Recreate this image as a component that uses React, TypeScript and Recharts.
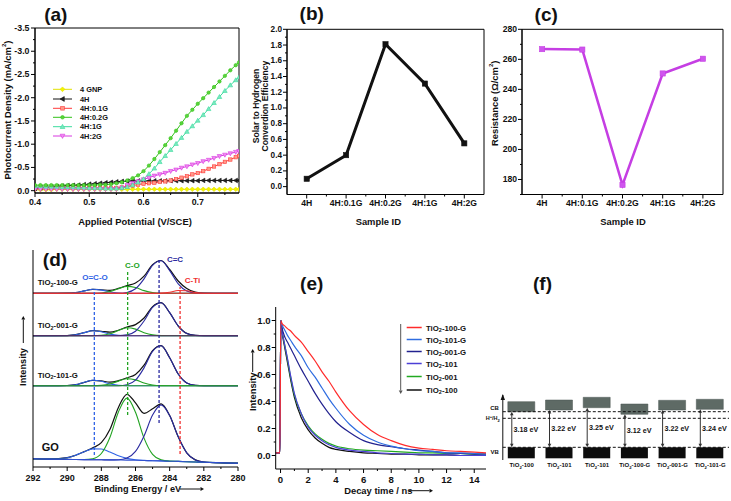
import React from 'react';
import { LineChart, Line, XAxis, YAxis, ReferenceLine, ReferenceArea, BarChart, Bar } from 'recharts';

const FONT = '"Liberation Sans", Arial, Helvetica, sans-serif';
const PW = 731;
const PH = 501;

/* ---------------- (a) photocurrent ---------------- */
const potentials = [0.40,0.41,0.42,0.43,0.44,0.45,0.46,0.47,0.48,0.49,0.50,0.51,0.52,0.53,0.54,0.55,0.56,0.57,0.58,0.59,0.60,0.61,0.62,0.63,0.64,0.65,0.66,0.67,0.68,0.69,0.70,0.71,0.72,0.73,0.74,0.75,0.76,0.77,0.776];
const gnpCurrent = [-0.02,-0.02,-0.02,-0.02,-0.03,-0.03,-0.03,-0.03,-0.03,-0.03,
  -0.03,-0.03,-0.03,-0.03,-0.03,-0.03,-0.03,-0.03,-0.03,-0.03,
  -0.03,-0.03,-0.03,-0.03,-0.03,-0.03,-0.03,-0.03,-0.03,-0.03,
  -0.03,-0.03,-0.03,-0.03,-0.03,-0.03,-0.03,-0.03,-0.03];
const h4Current = [-0.05,-0.06,-0.07,-0.08,-0.09,-0.10,-0.11,-0.115,-0.12,-0.13,
  -0.14,-0.15,-0.16,-0.17,-0.18,-0.19,-0.20,-0.205,-0.21,-0.21,
  -0.21,-0.21,-0.21,-0.21,-0.21,-0.215,-0.215,-0.215,-0.215,-0.215,
  -0.215,-0.22,-0.22,-0.22,-0.22,-0.22,-0.22,-0.22,-0.22];
const g01Current = [-0.06,-0.06,-0.06,-0.06,-0.06,-0.06,-0.06,-0.06,-0.06,-0.06,
  -0.06,-0.06,-0.06,-0.06,-0.06,-0.06,-0.07,-0.09,-0.11,-0.13,
  -0.15,-0.16,-0.17,-0.19,-0.20,-0.22,-0.25,-0.28,-0.31,-0.35,
  -0.38,-0.42,-0.47,-0.52,-0.57,-0.62,-0.67,-0.72,-0.75];
const g02Current = [-0.12,-0.12,-0.12,-0.12,-0.12,-0.12,-0.12,-0.12,-0.12,-0.12,
  -0.12,-0.12,-0.13,-0.13,-0.14,-0.16,-0.18,-0.22,-0.27,-0.33,
  -0.42,-0.54,-0.68,-0.83,-0.98,-1.13,-1.29,-1.45,-1.61,-1.74,
  -1.87,-1.99,-2.11,-2.23,-2.35,-2.47,-2.59,-2.70,-2.76];
const g1Current = [-0.10,-0.10,-0.09,-0.09,-0.09,-0.08,-0.08,-0.08,-0.07,-0.07,
  -0.06,-0.06,-0.06,-0.05,-0.05,-0.05,-0.06,-0.08,-0.12,-0.18,
  -0.25,-0.36,-0.48,-0.62,-0.75,-0.88,-1.01,-1.14,-1.27,-1.39,
  -1.51,-1.63,-1.76,-1.89,-2.02,-2.15,-2.27,-2.38,-2.44];
const g2Current = [-0.03,-0.03,-0.03,-0.03,-0.03,-0.03,-0.03,-0.03,-0.03,-0.03,
  -0.03,-0.03,-0.03,-0.03,-0.03,-0.03,-0.06,-0.12,-0.16,-0.20,
  -0.24,-0.28,-0.32,-0.35,-0.38,-0.42,-0.45,-0.49,-0.52,-0.56,
  -0.59,-0.63,-0.66,-0.70,-0.74,-0.77,-0.80,-0.83,-0.85];
const aSeries = [
  { key: 'gnp', name: '4 GNP', color: '#e2e200', fill: '#f4f400', shape: 'diamond', values: gnpCurrent },
  { key: 'h4', name: '4H', color: '#111111', fill: '#222222', shape: 'left', values: h4Current },
  { key: 'g01', name: '4H:0.1G', color: '#ff3b3b', fill: '#ff9a8a', shape: 'square', values: g01Current },
  { key: 'g2', name: '4H:2G', color: '#d838e0', fill: '#f08cf0', shape: 'down', values: g2Current },
  { key: 'g1', name: '4H:1G', color: '#3ddc9e', fill: '#7ae8c0', shape: 'up', values: g1Current },
  { key: 'g02', name: '4H:0.2G', color: '#33c21a', fill: '#5ad43a', shape: 'circle', values: g02Current },
];
const aLegendOrder = ['gnp', 'h4', 'g01', 'g02', 'g1', 'g2'];
const aXMajor = [0.4, 0.5, 0.6, 0.7];
const aXTicks = [0.4, 0.45, 0.5, 0.55, 0.6, 0.65, 0.7, 0.75];
const aYMajor = [0, -0.5, -1, -1.5, -2, -2.5, -3, -3.5];
const aYTicks = [-3.5, -3.25, -3, -2.75, -2.5, -2.25, -2, -1.75, -1.5, -1.25, -1, -0.75, -0.5, -0.25, 0];

/* ---------------- (b) STH efficiency ---------------- */
const sampleIds = ['4H', '4H:0.1G', '4H:0.2G', '4H:1G', '4H:2G'];
const sthEfficiency = [0.1, 0.4, 1.81, 1.31, 0.55];
const bYMajor = [0, 0.2, 0.4, 0.6, 0.8, 1.0, 1.2, 1.4, 1.6, 1.8, 2.0];
const bYTicks = [0, 0.1, 0.2, 0.3, 0.4, 0.5, 0.6, 0.7, 0.8, 0.9, 1.0, 1.1, 1.2, 1.3, 1.4, 1.5, 1.6, 1.7, 1.8, 1.9, 2.0];
const catTicks = [0, 0.5, 1, 1.5, 2, 2.5, 3, 3.5, 4];
const catMajor = [0, 1, 2, 3, 4];

/* ---------------- (c) resistance ---------------- */
const resistance = [266.8, 266.5, 176.4, 250.6, 260.4];
const cYMajor = [180, 200, 220, 240, 260, 280];
const cYTicks = [170, 180, 190, 200, 210, 220, 230, 240, 250, 260, 270, 280];

/* ---------------- (d) XPS C1s ---------------- */
const energies = [292, 291, 290, 289.5, 289, 288.5, 288, 287.5, 287, 286.5, 286, 285.5, 285, 284.5, 284, 283.5, 283, 282.5, 282, 281, 280];
const oco100 = [0,0,0.1,0.8,2.4,4.0,3.2,1.3,0.3,0,0,0,0,0,0,0,0,0,0,0,0];
const co100 = [0,0,0,0,0,0,0.35,1.7,4.6,6.9,5.8,2.7,0.7,0.1,0,0,0,0,0,0,0];
const cc100 = [0,0,0,0,0,0,0,0,0,0.85,4.5,14.4,28.0,32.5,22.7,9.5,2.3,0.3,0,0,0];
const cti100 = [0,0,0,0,0,0,0,0,0,0,0,0,0,0.2,1.1,2.8,2.5,0.8,0.1,0,0];
const env100 = [0,0,0.1,0.8,2.4,4.0,3.55,3.0,4.9,7.75,10.3,17.1,28.7,32.8,23.8,12.3,4.8,1.1,0.1,0,0];
const oco001 = [0,0,0.15,1.0,3.05,5.0,4.0,1.6,0.3,0,0,0,0,0,0,0,0,0,0,0,0];
const co001 = [0,0,0,0,0,0,0.4,1.9,5.2,7.9,6.6,3.0,0.8,0.1,0,0,0,0,0,0,0];
const cc001 = [0,0,0,0,0,0,0,0,0,0.8,4.5,14.7,28.3,33.0,23.0,9.7,2.3,0.4,0,0,0];
const env001 = [0,0,0.15,1.0,3.05,5.0,4.4,3.5,5.5,8.7,11.1,17.7,29.1,33.1,23.0,9.7,2.3,0.4,0,0,0];
const oco101 = [0,0,0.2,1.0,3.4,5.4,4.4,1.8,0.4,0,0,0,0,0,0,0,0,0,0,0,0];
const co101 = [0,0,0,0,0,0,0.35,1.7,4.6,6.9,5.8,2.7,0.7,0.1,0,0,0,0,0,0,0];
const cc101 = [0,0,0,0,0,0,0,0,0,1.0,5.5,17.8,34.3,40.0,27.9,11.7,2.8,0.4,0,0,0];
const env101 = [0,0,0.2,1.0,3.4,5.4,4.75,3.5,5.0,7.9,11.3,20.5,35.0,40.1,27.9,11.7,2.8,0.4,0,0,0];
const goBaseline = [8.2,7.9,7.6,7.5,7.4,7.3,7.2,7.1,7.0,6.9,6.7,6.5,6.3,6.1,5.8,5.6,5.3,5.0,4.7,4.2,3.8];
const goOco = [0,0.1,1.7,4.3,7.9,10.8,10.8,7.9,4.3,1.7,0.5,0.1,0,0,0,0,0,0,0,0,0];
const goCo = [0,0,0,0,0.1,1.0,6.3,22.4,48,62,48,22.4,6.3,1.0,0.1,0,0,0,0,0,0];
const goCc = [0,0,0,0,0,0,0,0,0.3,2.1,8.9,24.6,45.6,56,45.6,24.6,8.9,2.1,0.3,0,0];
const goEnv = [0,0.1,1.7,4.3,8.0,11.8,17.1,30.3,52.6,65.8,57.4,47.1,51.9,57.0,45.7,24.6,8.9,2.1,0.3,0,0];
const offset100G = 173.7;
const offset001G = 131.3;
const offset101G = 81.3;
const C_OCO = '#2f63e6';
const C_CO = '#22a322';
const C_CC = '#2a2aa0';
const C_CTI = '#f03030';
const dSpectra = [
  { id: 'go', base: goBaseline, baseColor: '#3050d0', env: goEnv, comps: [{ v: goOco, c: C_OCO }, { v: goCo, c: C_CO }, { v: goCc, c: C_CC }] },
  { id: 's101', base: offset101G, baseColor: '#2aa02a', env: env101, comps: [{ v: oco101, c: C_OCO }, { v: co101, c: C_CO }, { v: cc101, c: C_CC }] },
  { id: 's001', base: offset001G, baseColor: '#5a2a5a', env: env001, comps: [{ v: oco001, c: C_OCO }, { v: co001, c: C_CO }, { v: cc001, c: C_CC }] },
  { id: 's100', base: offset100G, baseColor: '#e83030', env: env100, comps: [{ v: oco100, c: C_OCO }, { v: co100, c: C_CO }, { v: cc100, c: C_CC }, { v: cti100, c: C_CTI }] },
];
const dMarkers = [
  { e: 288.41, y1: 12, y2: 177, color: C_OCO },
  { e: 286.46, y1: 52, y2: 195, color: C_CO },
  { e: 284.62, y1: 44, y2: 207, color: C_CC },
  { e: 283.39, y1: 13, y2: 180, color: C_CTI },
];
const dXMajor = [292, 290, 288, 286, 284, 282, 280];
const dXTicks = [280, 281, 282, 283, 284, 285, 286, 287, 288, 289, 290, 291, 292];

/* ---------------- (e) PL decay ---------------- */
const decayTime = [-0.35,-0.1,-0.05,0.02,0.1,0.3,0.5,0.75,1,1.5,2,2.5,3,3.5,4,5,6,7,8,9,10,11,12,13,14,14.85];
const decay100G = [0.02,0.02,0.02,1.0,0.98,0.96,0.94,0.92,0.89,0.84,0.77,0.70,0.62,0.55,0.47,0.33,0.23,0.155,0.11,0.075,0.055,0.045,0.035,0.03,0.025,0.02];
const decay101G = [0.02,0.02,0.02,1.0,0.97,0.93,0.89,0.85,0.81,0.74,0.65,0.58,0.50,0.42,0.35,0.23,0.15,0.10,0.07,0.05,0.035,0.03,0.02,0.02,0.015,0.01];
const decay001G = [0.02,0.02,0.02,1.0,0.95,0.88,0.84,0.79,0.74,0.64,0.55,0.46,0.38,0.31,0.25,0.17,0.11,0.08,0.065,0.05,0.04,0.03,0.02,0.015,0.01,0.01];
const decay101 = [0.02,0.02,0.02,1.0,0.93,0.82,0.72,0.58,0.46,0.31,0.21,0.15,0.11,0.08,0.06,0.04,0.03,0.02,0.015,0.01,0.01,0.005,0.005,0,0,0];
const decay001 = [0.02,0.02,0.02,1.0,0.93,0.82,0.71,0.57,0.45,0.31,0.22,0.16,0.12,0.09,0.07,0.05,0.04,0.035,0.03,0.025,0.02,0.02,0.015,0.015,0.01,0.01];
const decay100 = [0.02,0.02,0.02,1.0,0.92,0.80,0.69,0.55,0.43,0.28,0.19,0.13,0.09,0.06,0.045,0.03,0.02,0.015,0.01,0.01,0.005,0.005,0.005,0,0,0];
const eSeries = [
  { key: 'r100G', name: 'TiO2-100-G', color: '#ff2b2b', values: decay100G },
  { key: 'r101G', name: 'TiO2-101-G', color: '#2f6de0', values: decay101G },
  { key: 'r001G', name: 'TiO2-001-G', color: '#22228f', values: decay001G },
  { key: 'r101', name: 'TiO2-101', color: '#4b3fd6', values: decay101 },
  { key: 'r001', name: 'TiO2-001', color: '#22aa22', values: decay001 },
  { key: 'r100', name: 'TiO2-100', color: '#111111', values: decay100 },
];
const eXMajor = [0, 2, 4, 6, 8, 10, 12, 14];
const eXTicks = [0, 1, 2, 3, 4, 5, 6, 7, 8, 9, 10, 11, 12, 13, 14];
const eYMajor = [0, 0.2, 0.4, 0.6, 0.8, 1.0];
const eYTicks = [0, 0.1, 0.2, 0.3, 0.4, 0.5, 0.6, 0.7, 0.8, 0.9, 1.0];

/* ---------------- (f) band diagram ---------------- */
const fSamples = ['TiO2-100', 'TiO2-101', 'TiO2-101', 'TiO2-100-G', 'TiO2-001-G', 'TiO2-101-G'];
const fGapLabels = ['3.18 eV', '3.22 eV', '3.25 eV', '3.12 eV', '3.22 eV', '3.24 eV'];
const fCbBottom = [48.3, 50, 52.3, 45.7, 50, 50.7];
const fCbTop = [58.3, 60, 62.7, 56, 59.7, 60.7];
const fVbBottom = [1.7, 1.7, 1.7, 1.7, 1.7, 1.7];
const fVbTop = [12.7, 12.7, 12.7, 12.7, 12.7, 12.7];
const fDashedLevels = [48.3, 41.7, 12.7];
const fLevelTicks = [8, 41.7, 52.3, 65];
const fLevelNames = ['VB', 'H+/H2', 'CB', ''];

/* ---------------- helpers ---------------- */
const abs: any = { position: 'absolute', left: 0, top: 0 };
const isMajor = (v: number, majors: number[]) => majors.some((m) => Math.abs(m - v) < 1e-6);

function bottomTick(majors: number[], fmt: (v: number) => string, fs: number, gap: number) {
  return (p: any) => {
    const v = p.payload.value;
    const M = isMajor(v, majors);
    return (
      <g key={`bt-${v}`}>
        <line x1={p.x} x2={p.x} y1={p.y} y2={p.y + (M ? 4 : 2)} stroke="#000" strokeWidth={1} />
        {M ? (
          <text x={p.x} y={p.y + gap} textAnchor="middle" dominantBaseline="central" fontSize={fs} fontWeight="bold" fontFamily={FONT} fill="#111">
            {fmt(v)}
          </text>
        ) : null}
      </g>
    );
  };
}
function leftTick(majors: number[], fmt: (v: number) => string, fs: number, gap: number) {
  return (p: any) => {
    const v = p.payload.value;
    const M = isMajor(v, majors);
    return (
      <g key={`lt-${v}`}>
        <line x1={p.x - (M ? 4 : 2)} x2={p.x} y1={p.y} y2={p.y} stroke="#000" strokeWidth={1} />
        {M ? (
          <text x={p.x - gap} y={p.y} textAnchor="end" dominantBaseline="central" fontSize={fs} fontWeight="bold" fontFamily={FONT} fill="#111">
            {fmt(v)}
          </text>
        ) : null}
      </g>
    );
  };
}

function Marker({ shape, cx, cy, s, fill, stroke }: any) {
  const sw = 0.6;
  if (cx == null || cy == null) return <g />;
  if (shape === 'circle') return <circle cx={cx} cy={cy} r={s} fill={fill} stroke={stroke} strokeWidth={sw} />;
  if (shape === 'square') return <rect x={cx - s} y={cy - s} width={2 * s} height={2 * s} fill={fill} stroke={stroke} strokeWidth={sw} />;
  const t = s + 0.6;
  let pts = '';
  if (shape === 'diamond') pts = `${cx},${cy - t} ${cx + t},${cy} ${cx},${cy + t} ${cx - t},${cy}`;
  if (shape === 'up') pts = `${cx},${cy - t} ${cx + t},${cy + s} ${cx - t},${cy + s}`;
  if (shape === 'down') pts = `${cx},${cy + t} ${cx + t},${cy - s} ${cx - t},${cy - s}`;
  if (shape === 'left') pts = `${cx - t},${cy} ${cx + s},${cy - t} ${cx + s},${cy + t}`;
  return <polygon points={pts} fill={fill} stroke={stroke} strokeWidth={sw} />;
}
const makeDot = (shape: string, fill: string, stroke: string, s: number) => (p: any) => (
  <Marker key={`dot-${shape}-${p.index}`} shape={shape} cx={p.cx} cy={p.cy} s={s} fill={fill} stroke={stroke} />
);

function chem(label: string, fs: number) {
  if (!label.startsWith('TiO2')) return label;
  const rest = label.slice(4);
  return [
    <tspan key="a">TiO</tspan>,
    <tspan key="b" dy={fs * 0.3} fontSize={fs * 0.7}>2</tspan>,
    <tspan key="c" dy={-fs * 0.3}>{rest}</tspan>,
  ];
}

const Txt = ({ x, y, size = 9, anchor = 'middle', color = '#111', rotate = 0, children }: any) => (
  <text
    x={x}
    y={y}
    fontSize={size}
    textAnchor={anchor}
    fill={color}
    fontFamily={FONT}
    fontWeight="bold"
    dominantBaseline="central"
    transform={rotate ? `rotate(${rotate} ${x} ${y})` : undefined}
  >
    {children}
  </text>
);

function Arrow({ x1, y1, x2, y2, color = '#111', w = 1, head = 3.5 }: any) {
  const ang = Math.atan2(y2 - y1, x2 - x1);
  const bx = x2 - head * Math.cos(ang);
  const by = y2 - head * Math.sin(ang);
  const px = -Math.sin(ang) * head * 0.55;
  const py = Math.cos(ang) * head * 0.55;
  return (
    <g>
      <line x1={x1} y1={y1} x2={bx} y2={by} stroke={color} strokeWidth={w} />
      <polygon points={`${x2},${y2} ${bx + px},${by + py} ${bx - px},${by - py}`} fill={color} />
    </g>
  );
}

/* ---------------- panels ---------------- */
function PanelA() {
  const rows = potentials.map((v, i) => {
    const r: any = { v };
    aSeries.forEach((s) => (r[s.key] = s.values[i]));
    return r;
  });
  return (
    <div style={abs}>
      <LineChart width={PW} height={PH} data={rows} margin={{ top: 28, left: 5, right: PW - 239, bottom: PH - 193 - 30 }}>
        <XAxis dataKey="v" type="number" domain={[0.4, 0.776]} ticks={aXTicks} interval={0} height={30} tickSize={0} tickMargin={0} tickLine={false} axisLine={{ stroke: '#000' }} tick={bottomTick(aXMajor, (v) => v.toFixed(1), 8.8, 9)} allowDataOverflow />
        <YAxis type="number" domain={[-3.5, 0.05]} reversed ticks={aYTicks} interval={0} width={30} tickSize={0} tickMargin={0} tickLine={false} axisLine={{ stroke: '#000' }} tick={leftTick(aYMajor, (v) => v.toFixed(1), 8.8, 5.5)} allowDataOverflow />
        <ReferenceArea x1={0.4} x2={0.776} y1={-3.5} y2={0.05} fill="none" fillOpacity={0} stroke="#000" strokeWidth={1} ifOverflow="visible" />
        {aSeries.map((s) => (
          <Line key={s.key} dataKey={s.key} type="linear" stroke={s.color} strokeWidth={1} dot={makeDot(s.shape, s.fill, s.color, 1.7)} isAnimationActive={false} />
        ))}
      </LineChart>
    </div>
  );
}

function CatPanel({ values, left, right, domain, yTicks, yMajor, fmt, color, fill, width, yFont }: any) {
  const rows = values.map((v: number, i: number) => ({ i, v }));
  return (
    <div style={abs}>
      <LineChart width={PW} height={PH} data={rows} margin={{ top: 29.3, left: left - 30, right: PW - right, bottom: PH - 194.5 - 30 }}>
        <XAxis dataKey="i" type="number" domain={[-0.5, 4.5]} ticks={catTicks} interval={0} height={30} tickSize={0} tickMargin={0} tickLine={false} axisLine={{ stroke: '#000' }} tick={bottomTick(catMajor, (v) => sampleIds[v], 8.6, 8.5)} />
        <YAxis type="number" domain={domain} ticks={yTicks} interval={0} width={30} tickSize={0} tickMargin={0} tickLine={false} axisLine={{ stroke: '#000' }} tick={leftTick(yMajor, fmt, yFont, 5)} allowDataOverflow />
        <ReferenceArea x1={-0.5} x2={4.5} y1={domain[0]} y2={domain[1]} fill="none" fillOpacity={0} stroke="#000" strokeWidth={1} ifOverflow="visible" />
        <Line dataKey="v" type="linear" stroke={color} strokeWidth={width} dot={makeDot('square', fill, color, 2.6)} isAnimationActive={false} />
      </LineChart>
    </div>
  );
}

function PanelD() {
  const rows = energies.map((e, i) => {
    const r: any = { e };
    dSpectra.forEach((s) => {
      const b = typeof s.base === 'number' ? s.base : (s.base as number[])[i];
      r[`${s.id}_base`] = b;
      r[`${s.id}_env`] = b + s.env[i];
      s.comps.forEach((c, k) => (r[`${s.id}_c${k}`] = b + c.v[i]));
    });
    return r;
  });
  const lines: any[] = [];
  dSpectra.forEach((s) => {
    lines.push(<Line key={`${s.id}_env`} dataKey={`${s.id}_env`} type="monotone" stroke="#111" strokeWidth={1.2} dot={false} isAnimationActive={false} />);
    s.comps.forEach((c, k) =>
      lines.push(<Line key={`${s.id}_c${k}`} dataKey={`${s.id}_c${k}`} type="monotone" stroke={c.c} strokeWidth={1.1} dot={false} isAnimationActive={false} />)
    );
    lines.push(<Line key={`${s.id}_base`} dataKey={`${s.id}_base`} type="monotone" stroke={s.baseColor} strokeWidth={1.1} dot={false} isAnimationActive={false} />);
  });
  return (
    <div style={abs}>
      <LineChart width={PW} height={PH} data={rows} margin={{ top: 250, left: 23, right: PW - 238, bottom: PH - 467 - 25 }}>
        <XAxis dataKey="e" type="number" domain={[280, 292]} reversed ticks={dXTicks} interval={0} height={25} tickSize={0} tickMargin={0} tickLine={false} axisLine={{ stroke: '#000' }} tick={bottomTick(dXMajor, (v) => String(v), 9, 10.5)} />
        <YAxis type="number" domain={[0, 217]} width={10} tick={false} tickLine={false} axisLine={{ stroke: '#000' }} />
        {lines}
        {dMarkers.map((m, i) => (
          <ReferenceLine key={`dm${i}`} segment={[{ x: m.e, y: m.y1 }, { x: m.e, y: m.y2 }]} stroke={m.color} strokeWidth={1.3} strokeDasharray="3 2" ifOverflow="visible" />
        ))}
      </LineChart>
    </div>
  );
}

function PanelE() {
  const rows = decayTime.map((t, i) => {
    const r: any = { t };
    eSeries.forEach((s) => (r[s.key] = s.values[i]));
    return r;
  });
  return (
    <div style={abs}>
      <LineChart width={PW} height={PH} data={rows} margin={{ top: 307, left: 275.7 - 30, right: PW - 486, bottom: PH - 469 - 25 }}>
        <XAxis dataKey="t" type="number" domain={[-0.35, 14.85]} ticks={eXTicks} interval={0} height={25} tickSize={0} tickMargin={0} tickLine={false} axisLine={{ stroke: '#000' }} tick={bottomTick(eXMajor, (v) => String(v), 9.6, 10.5)} allowDataOverflow />
        <YAxis type="number" domain={[-0.1, 1.1]} ticks={eYTicks} interval={0} width={30} tickSize={0} tickMargin={0} tickLine={false} axisLine={{ stroke: '#000' }} tick={leftTick(eYMajor, (v) => v.toFixed(1), 9.6, 5)} allowDataOverflow />
        {[...eSeries].reverse().map((s) => (
          <Line key={s.key} dataKey={s.key} type="monotone" stroke={s.color} strokeWidth={1.2} dot={false} isAnimationActive={false} />
        ))}
      </LineChart>
    </div>
  );
}

function PanelF() {
  const rows = fSamples.map((name, i) => ({
    i,
    name,
    cb: [fCbBottom[i], fCbTop[i]],
    vb: [fVbBottom[i], fVbTop[i]],
    gap: [fVbTop[i], fCbBottom[i]],
    gapLabel: fGapLabels[i],
  }));
  const gapShape = (p: any) => {
    const top = Math.min(p.y, p.y + p.height);
    const bot = Math.max(p.y, p.y + p.height);
    const ax = p.x + 4;
    return (
      <g key={`gap-${p.index}`}>
        <line x1={ax} x2={ax} y1={top + 2.5} y2={bot - 2.5} stroke="#333" strokeWidth={1} />
        <polygon points={`${ax - 1.8},${top + 3.5} ${ax},${top} ${ax + 1.8},${top + 3.5}`} fill="#333" />
        <polygon points={`${ax - 1.8},${bot - 3.5} ${ax},${bot} ${ax + 1.8},${bot - 3.5}`} fill="#333" />
        <text x={ax + 1.8} y={(top + bot) / 2} dominantBaseline="central" fontSize={7.2} fontWeight="bold" fontFamily={FONT} fill="#111">
          {p.payload.gapLabel}
        </text>
      </g>
    );
  };
  const xTick = (p: any) => (
    <text key={`ft-${p.payload.value}`} x={p.x} y={p.y + 5} textAnchor="middle" dominantBaseline="central" fontSize={6} fontWeight="bold" fontFamily={FONT} fill="#111">
      {chem(fSamples[p.payload.value], 6)}
    </text>
  );
  const yTick = (p: any) => {
    const v = p.payload.value;
    const idx = fLevelTicks.indexOf(v);
    if (idx === fLevelTicks.length - 1) {
      return <polygon key="fy-arrow" points={`${p.x - 2.2},${p.y + 5} ${p.x},${p.y - 1} ${p.x + 2.2},${p.y + 5}`} fill="#111" />;
    }
    const name = fLevelNames[idx];
    if (name === 'H+/H2') {
      return (
        <text key={`fy-${v}`} x={p.x - 3} y={p.y} textAnchor="end" dominantBaseline="central" fontSize={5.5} fontWeight="bold" fontFamily={FONT} fill="#111">
          <tspan>H</tspan>
          <tspan dy={-2} fontSize={4}>+</tspan>
          <tspan dy={2}>/H</tspan>
          <tspan dy={1.5} fontSize={4}>2</tspan>
        </text>
      );
    }
    return (
      <text key={`fy-${v}`} x={p.x - 4} y={p.y} textAnchor="end" dominantBaseline="central" fontSize={6} fontWeight="bold" fontFamily={FONT} fill="#111">
        {name}
      </text>
    );
  };
  return (
    <div style={abs}>
      <BarChart width={PW} height={PH} data={rows} margin={{ top: 395, left: 502.8 - 30, right: PW - 729, bottom: PH - 460 - 12 }} barGap={0}>
        <XAxis xAxisId="cb" dataKey="i" type="category" height={12} interval={0} tickSize={0} tickMargin={0} tickLine={false} axisLine={false} tick={xTick} />
        <XAxis xAxisId="vb" dataKey="i" type="category" hide />
        <XAxis xAxisId="gap" dataKey="i" type="category" hide />
        <YAxis type="number" domain={[0, 65]} ticks={fLevelTicks} interval={0} width={30} tickSize={0} tickMargin={0} tickLine={false} axisLine={{ stroke: '#111' }} tick={yTick} />
        <Bar xAxisId="cb" dataKey="cb" fill="#5e6a65" stroke="#4a5550" strokeWidth={0.5} barSize={27} isAnimationActive={false} />
        <Bar xAxisId="vb" dataKey="vb" fill="#0d0d0d" barSize={27} isAnimationActive={false} />
        <Bar xAxisId="gap" dataKey="gap" barSize={27} shape={gapShape} isAnimationActive={false} />
        {fDashedLevels.map((lv, i) => (
          <ReferenceLine key={`fl${i}`} xAxisId="cb" y={lv} stroke="#111" strokeWidth={1} strokeDasharray="3 2" />
        ))}
      </BarChart>
    </div>
  );
}

function Overlay() {
  const aLegendRows = [89.3, 99, 108.3, 117.3, 126.7, 136];
  const eLegendRows = [327.5, 339.5, 351.5, 363.5, 376.5, 390];
  return (
    <svg width={PW} height={PH} style={{ position: 'absolute', left: 0, top: 0, pointerEvents: 'none' }}>
      {/* titles */}
      <Txt x={55.8} y={14.2} size={19}>(a)</Txt>
      <Txt x={311.7} y={13.5} size={19}>(b)</Txt>
      <Txt x={546.2} y={14.8} size={19}>(c)</Txt>
      <Txt x={55} y={259} size={19}>(d)</Txt>
      <Txt x={311.7} y={283.3} size={19}>(e)</Txt>
      <Txt x={542.5} y={283.3} size={19}>(f)</Txt>

      {/* (a) labels */}
      <Txt x={7} y={110} size={9.4} rotate={-90}>
        <tspan>Photocurrent Density (mA/cm</tspan>
        <tspan dy={-3} fontSize={6}>2</tspan>
        <tspan dy={3}>)</tspan>
      </Txt>
      <Txt x={135} y={221.7} size={9.4}>Applied Potential (V/SCE)</Txt>
      {aLegendOrder.map((k, i) => {
        const s: any = aSeries.find((q) => q.key === k);
        const y = aLegendRows[i];
        return (
          <g key={`al${k}`}>
            <line x1={53} x2={72} y1={y} y2={y} stroke={s.color} strokeWidth={1} />
            <Marker shape={s.shape} cx={62.5} cy={y} s={1.8} fill={s.fill} stroke={s.color} />
            <Txt x={80} y={y} size={7.4} anchor="start">{s.name}</Txt>
          </g>
        );
      })}

      {/* (b) labels */}
      <Txt x={256} y={106} size={8.6} rotate={-90}>Solar to Hydrogen</Txt>
      <Txt x={265} y={106} size={8.6} rotate={-90}>Converdion Efficiency</Txt>
      <Txt x={378.3} y={221} size={9.4}>Sample ID</Txt>

      {/* (c) labels */}
      <Txt x={494} y={103.3} size={9.4} rotate={-90}>
        <tspan>Resistance (Ω/cm</tspan>
        <tspan dy={-3} fontSize={6}>2</tspan>
        <tspan dy={3}>)</tspan>
      </Txt>
      <Txt x={623} y={221} size={9.4}>Sample ID</Txt>

      {/* (d) labels */}
      <Txt x={23.3} y={367} size={9.2} rotate={-90}>Intensity</Txt>
      <Arrow x1={23.3} y1={343} x2={23.3} y2={316} />
      <Txt x={137.8} y={489} size={9.2}>Binding Energy / eV</Txt>
      <Arrow x1={180} y1={489} x2={204} y2={489} />
      <Txt x={95} y={277.3} size={8} color={C_OCO}>O=C-O</Txt>
      <Txt x={132.3} y={265} size={8} color={C_CO}>C-O</Txt>
      <Txt x={175} y={259} size={8} color={C_CC}>C=C</Txt>
      <Txt x={192.5} y={280.7} size={8} color={C_CTI}>C-Ti</Txt>
      <Txt x={37.7} y={282.3} size={7.8} anchor="start">{chem('TiO2-100-G', 7.8)}</Txt>
      <Txt x={37.7} y={325.3} size={7.8} anchor="start">{chem('TiO2-001-G', 7.8)}</Txt>
      <Txt x={37.7} y={375} size={7.8} anchor="start">{chem('TiO2-101-G', 7.8)}</Txt>
      <Txt x={50.3} y={446.7} size={11}>GO</Txt>

      {/* (e) labels */}
      <Txt x={252.7} y={391.7} size={9.4} rotate={-90}>Intensity</Txt>
      <Arrow x1={252.7} y1={372} x2={252.7} y2={349} />
      <Txt x={378.3} y={490.7} size={9.4}>Decay time / ns</Txt>
      <Arrow x1={409} y1={490.7} x2={433} y2={490.7} />
      <Arrow x1={400.7} y1={324} x2={400.7} y2={394} color="#555" />
      {eSeries.map((s, i) => (
        <g key={`el${s.key}`}>
          <line x1={406.7} x2={421.7} y1={eLegendRows[i]} y2={eLegendRows[i]} stroke={s.color} strokeWidth={1.5} />
          <Txt x={426} y={eLegendRows[i]} size={7.8} anchor="start">{chem(s.name, 7.8)}</Txt>
        </g>
      ))}
    </svg>
  );
}

export default function App() {
  return (
    <div style={{ position: 'absolute', left: 0, top: 0, width: PW, height: PH, background: '#fff', overflow: 'hidden', fontFamily: FONT }}>
      <PanelA />
      <CatPanel values={sthEfficiency} left={287} right={484} domain={[-0.1, 2.0]} yTicks={bYTicks} yMajor={bYMajor} fmt={(v: number) => v.toFixed(1)} color="#111" fill="#111" width={3} yFont={8.2} />
      <CatPanel values={resistance} left={522} right={723} domain={[170, 280]} yTicks={cYTicks} yMajor={cYMajor} fmt={(v: number) => String(v)} color="#c53ee3" fill="#cf55ee" width={2.5} yFont={8.6} />
      <PanelD />
      <PanelE />
      <PanelF />
      <Overlay />
    </div>
  );
}
